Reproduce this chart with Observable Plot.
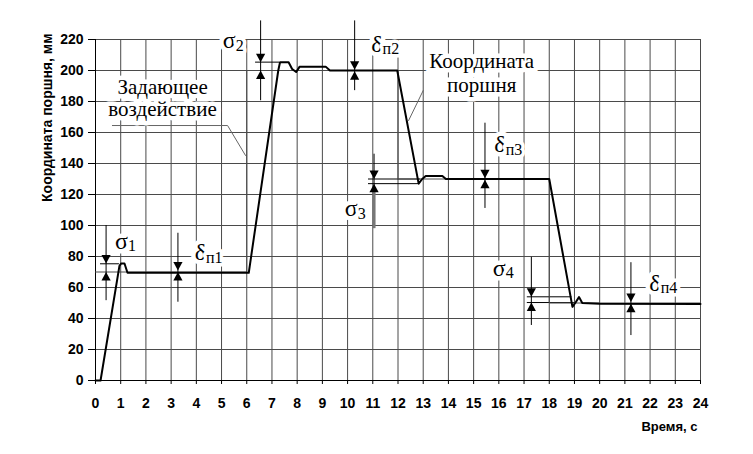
<!DOCTYPE html>
<html><head><meta charset="utf-8">
<script src="https://cdn.jsdelivr.net/npm/d3@7"></script>
<script src="https://cdn.jsdelivr.net/npm/@observablehq/plot@0.6"></script>
<style>body{margin:0;background:#fff}</style>
</head><body><div id="chart"></div>
<script>
// tick labels
const timeTicks = [0,1,2,3,4,5,6,7,8,9,10,11,12,13,14,15,16,17,18,19,20,21,22,23,24];
const coordTicks = [0,20,40,60,80,100,120,140,160,180,200,220];

// reference input (step function)
const refTime  = [0, 6, 12, 18, 24];
const refValue = [70, 200, 130, 50, 50];

// piston coordinate
const pistonTime  = [0, 0.2, 0.95, 1.02, 1.15, 1.27, 6.08, 7.25, 7.32, 7.66, 7.8, 7.96, 8.1, 9.13, 9.3, 11.97, 12.82, 12.96, 13.1, 13.76, 13.9, 18.0, 18.92, 19.05, 19.18, 19.31, 20.0, 24];
const pistonValue = [0, 0, 74, 75.5, 75.5, 69.5, 69.5, 200, 205.3, 205.3, 201, 199, 202.5, 202.5, 200, 200, 127, 130, 132, 132, 130, 130, 47.5, 50.5, 53.8, 50, 49.5, 49.3];

// overshoot / tolerance markers
const markerName   = ["σ1", "δп1", "σ2", "δп2", "σ3", "δп3", "σ4", "δп4"];
const markerX      = [0.42, 3.27, 6.55, 10.28, 11.05, 15.45, 17.29, 21.24];
const markerTop    = [75.5, 71, 205.4, 200.5, 130, 130.5, 54, 50.6];
const markerBottom = [70, 70, 200, 199.5, 127, 129.5, 50.3, 49.5];
const markerFrom   = [100, 95, 232, 232, 146, 166, 79.5, 76];
const markerTo     = [51.5, 50.5, 180.5, 187, 98, 111, 35.5, 29];

// thin band boundary lines
const bandY  = [75.3, 205.4, 130, 127, 54, 50.3];
const bandX1 = [0.2, 6.35, 10.83, 10.83, 17.13, 17.13];
const bandX2 = [0.95, 7.3, 12.9, 12.83, 18.9, 19.0];

// symbol labels: main glyph + subscript
const symMain = ["σ", "δ", "σ", "δ", "σ", "δ", "σ", "δ"];
const symSub  = ["1", "п1", "2", "п2", "3", "п3", "4", "п4"];
const symX    = [1.29, 4.385, 5.56, 11.39, 10.40, 16.27, 16.27, 22.42];
const symY    = [90.1, 82.4, 219.2, 216.9, 110.8, 152.1, 72.7, 63.0];

// text callouts
const calloutText = ["Задающее", "воздействие", "Координата", "поршня"];
const calloutX    = [2.66, 2.66, 15.32, 15.32];
const calloutY    = [189.5, 175.1, 205.9, 190.6];
const leaderRefX  = [0.67, 5.24, 5.95];
const leaderRefY  = [164.5, 164.5, 145.2];
const leaderPosX  = [13.0, 12.42];
const leaderPosY  = [187.1, 167.7];

const yLabel = "Координата поршня, мм";
const xLabel = "Время, с";

const ref = refTime.map((t,i)=>({t, v: refValue[i]}));
const piston = pistonTime.map((t,i)=>({t, v: pistonValue[i]}));
const markers = markerName.map((n,i)=>({n, x: markerX[i], top: markerTop[i], bottom: markerBottom[i], from: markerFrom[i], to: markerTo[i]}));
const bands = bandY.map((y,i)=>({y, x1: bandX1[i], x2: bandX2[i]}));
const syms = symMain.map((m,i)=>({m, s: symSub[i], x: symX[i], y: symY[i]}));
const callouts = calloutText.map((t,i)=>({t, x: calloutX[i], y: calloutY[i]}));
const leaderRef = leaderRefX.map((x,i)=>({x, y: leaderRefY[i]}));
const leaderPos = leaderPosX.map((x,i)=>({x, y: leaderPosY[i]}));

const arrowDown = {draw(ctx){ctx.moveTo(0,0);ctx.lineTo(-4.6,-8.5);ctx.lineTo(4.6,-8.5);ctx.closePath();}};
const arrowUp   = {draw(ctx){ctx.moveTo(0,0);ctx.lineTo(-4.6,8.5);ctx.lineTo(4.6,8.5);ctx.closePath();}};

const serif = "'Liberation Serif', 'DejaVu Serif', 'Noto Serif', 'Times New Roman', Times, serif";

const chart = Plot.plot({
  width: 753, height: 454,
  marginLeft: 95, marginRight: 53, marginTop: 39, marginBottom: 74,
  style: {fontSize: "14px", fontWeight: "bold", background: "white", color: "black"},
  x: {domain: [0, 24]},
  y: {domain: [0, 220]},
  marks: [
    Plot.ruleX(timeTicks, {stroke: "#4a4a4a", strokeWidth: 1}),
    Plot.ruleY(coordTicks, {stroke: "#4a4a4a", strokeWidth: 1}),
    Plot.ruleX([0], {stroke: "black"}),
    Plot.ruleY([0], {stroke: "black"}),
    Plot.axisX({ticks: timeTicks, tickSize: 4, tickPadding: 14, label: null, fontSize: 14}),
    Plot.axisY({ticks: coordTicks, tickSize: 7, tickPadding: 5, label: null, fontSize: 14}),
    // leaders
    Plot.line(leaderRef, {x: "x", y: "y", stroke: "#666", strokeWidth: 1}),
    Plot.line(leaderPos, {x: "x", y: "y", stroke: "#666", strokeWidth: 1}),
    // bands
    Plot.ruleY(bands, {y: "y", x1: "x1", x2: "x2", stroke: "black", strokeWidth: 1}),
    // reference & piston
    Plot.line(ref, {x: "t", y: "v", curve: "step-after", stroke: "#4a4a4a", strokeWidth: 1}),
    Plot.line(piston, {x: "t", y: "v", stroke: "black", strokeWidth: 2, strokeLinejoin: "round"}),
    // marker verticals
    Plot.ruleX(markers, {x: "x", y1: "from", y2: "to", stroke: "black", strokeWidth: 1}),
    Plot.ruleX(markers.filter(d => d.n === "σ3"), {x: "x", y1: 122, y2: "to", stroke: "#777", strokeWidth: 3}),
    Plot.dot(markers, {x: "x", y: "top", symbol: arrowDown, fill: "black", stroke: null}),
    Plot.dot(markers, {x: "x", y: "bottom", symbol: arrowUp, fill: "black", stroke: null}),
    // callout text
    Plot.text(callouts, {x: "x", y: "y", text: "t", fontFamily: serif, fontSize: 21, fontWeight: "normal", stroke: "white", strokeWidth: 9, fill: "black", ariaLabel: "callout"}),
    // symbols
    Plot.text(syms, {x: "x", y: "y", text: "m", textAnchor: "end", fontFamily: serif, fontSize: 24, fontWeight: "normal", stroke: "white", strokeWidth: 9, fill: "black", ariaLabel: "symbol"}),
    Plot.text(syms, {x: "x", y: "y", text: "s", textAnchor: "start", dy: 5, fontFamily: serif, fontSize: 16, fontWeight: "normal", stroke: "white", strokeWidth: 7, fill: "black", ariaLabel: "subscript"}),
    // axis labels
    Plot.text([yLabel], {frameAnchor: "top-left", rotate: -90, textAnchor: "end", dx: -53, dy: -6, fontSize: 14, fontWeight: "bold"}),
    Plot.text([xLabel], {frameAnchor: "bottom-right", textAnchor: "end", dx: -3, dy: 50, fontSize: 13, fontWeight: "bold"})
  ]
});
document.getElementById("chart").appendChild(chart);
const svg = d3.select(chart);
svg.style("font-family", "'Liberation Sans', Arial, sans-serif");
svg.selectAll('g[aria-label="callout"] text, g[aria-label="symbol"] text, g[aria-label="subscript"] text')
  .style("font-family", serif);
svg.selectAll('g[aria-label="callout"] text').style("letter-spacing", "1px");
</script>
</body></html>
